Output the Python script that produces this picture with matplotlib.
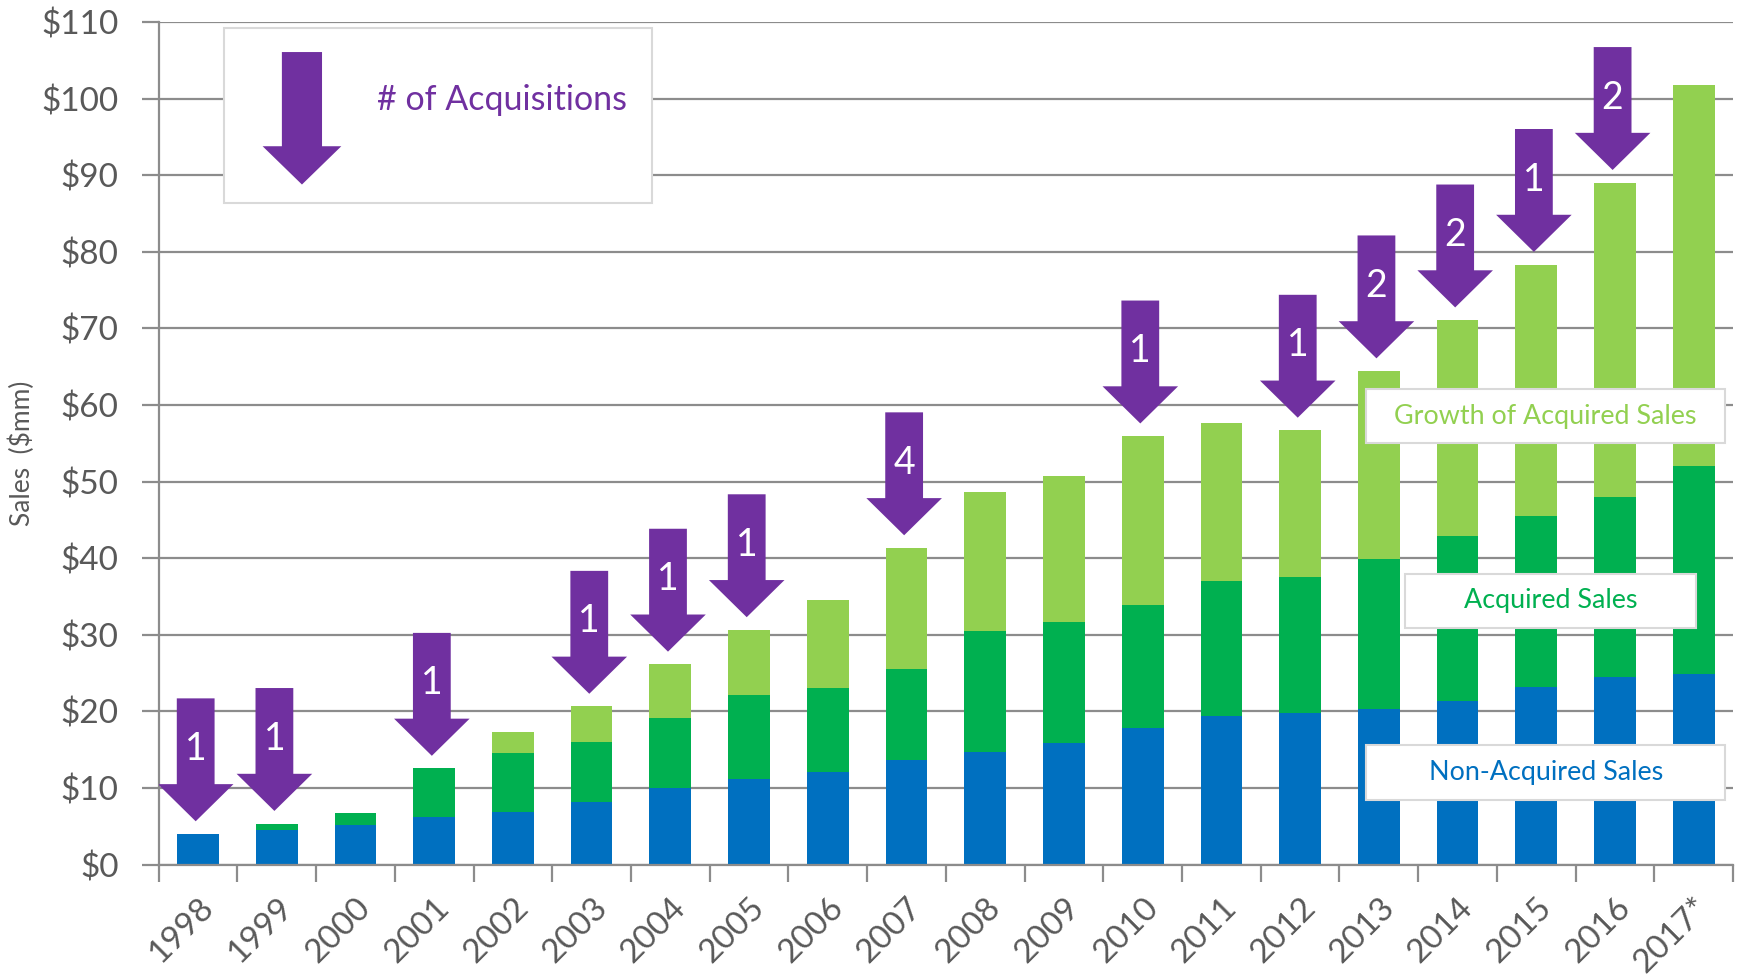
import matplotlib
matplotlib.use("Agg")
import matplotlib.pyplot as plt
from matplotlib.patches import Polygon, Rectangle
import numpy as np

plt.rcParams['font.family'] = ['Lato', 'DejaVu Sans']

# ---------------- data ----------------
years = ['1998', '1999', '2000', '2001', '2002', '2003', '2004', '2005', '2006', '2007',
         '2008', '2009', '2010', '2011', '2012', '2013', '2014', '2015', '2016', '2017*']
non_acquired = [4.0, 4.5, 5.15, 6.25, 6.8, 8.15, 9.95, 11.15, 12.15, 13.65,
                14.7, 15.85, 17.85, 19.4, 19.8, 20.35, 21.4, 23.2, 24.5, 24.85]
acquired = [0.0, 0.85, 1.55, 6.3, 7.75, 7.85, 9.25, 11.05, 10.9, 11.95,
            15.8, 15.8, 16.05, 17.6, 17.7, 19.5, 21.55, 22.25, 23.45, 27.25]
growth_acquired = [0.0, 0.0, 0.0, 0.0, 2.75, 4.65, 6.95, 8.45, 11.5, 15.75,
                   18.2, 19.15, 22.05, 20.6, 19.2, 24.6, 28.15, 32.9, 41.1, 49.75]
acquisitions = [1, 1, 0, 1, 0, 1, 1, 1, 0, 4, 0, 0, 1, 0, 1, 2, 2, 1, 2, 0]
y_ticks = [0, 10, 20, 30, 40, 50, 60, 70, 80, 90, 100, 110]
series_names = ['Non-Acquired Sales', 'Acquired Sales', 'Growth of Acquired Sales']
legend_label = '# of Acquisitions'
y_label = 'Sales  ($mm)'

# ---------------- style ----------------
BLUE = '#0070C0'
GREEN = '#00B050'
LGREEN = '#92D050'
PURPLE = '#7030A0'
GRID = '#8c8c8c'
TXT = '#595959'

fig = plt.figure(figsize=(17.4, 9.77), dpi=100)
ax = fig.add_axes([0.0912, 0.1151, 0.9048, 0.8622])

x = np.arange(len(years))
na = np.array(non_acquired)
ac = np.array(acquired)
gr = np.array(growth_acquired)
w = 0.53
ax.bar(x, na, w, color=BLUE, zorder=2)
ax.bar(x, ac, w, bottom=na, color=GREEN, zorder=2)
ax.bar(x, gr, w, bottom=na + ac, color=LGREEN, zorder=2)
totals = na + ac + gr

ax.set_xlim(-0.5, len(years) - 0.5)
ax.set_ylim(0, 110)

# grid & spines
ax.set_yticks(y_ticks)
ax.set_yticklabels(['${}'.format(v) for v in y_ticks])
ax.yaxis.grid(True, color=GRID, lw=1.6, zorder=0)
ax.set_axisbelow(True)
for s in ['top', 'right']:
    ax.spines[s].set_visible(False)
for s in ['left', 'bottom']:
    ax.spines[s].set_color(GRID)
    ax.spines[s].set_linewidth(1.6)
ax.tick_params(axis='y', length=12, width=1.6, color=GRID, pad=17,
               labelsize=24, labelcolor=TXT)

ax.set_xticks(np.arange(-0.5, len(years), 1.0))
ax.set_xticklabels([])
ax.set_xticks(x, minor=True)
ax.set_xticklabels(years, minor=True, rotation=45, ha='right', va='top',
                   rotation_mode='anchor')
ax.tick_params(axis='x', which='major', length=12, width=1.6, color=GRID)
ax.tick_params(axis='x', which='minor', length=0, pad=20, labelsize=24,
               labelcolor=TXT)

fig.text(22 / 1740, 1 - 453 / 977, y_label, rotation=90, ha='center', va='center',
         fontsize=19, color=TXT)


# arrows
def down_arrow(cx, tip, shaft_hw=0.24, head_hw=0.48, head_h=4.85, total_h=16.05):
    base = tip + head_h
    top = tip + total_h
    verts = [(cx - shaft_hw, top), (cx + shaft_hw, top), (cx + shaft_hw, base),
             (cx + head_hw, base), (cx, tip), (cx - head_hw, base),
             (cx - shaft_hw, base)]
    return Polygon(verts, closed=True, facecolor=PURPLE, edgecolor='none', zorder=4)


gap = 1.65
for xi, n, t in zip(x, acquisitions, totals):
    if n == 0:
        continue
    tip = t + gap
    ax.add_patch(down_arrow(xi - 0.03, tip))
    ax.text(xi - 0.03, tip + 16.05 - 6.6, str(n), ha='center', va='center',
            color='white', fontsize=27, zorder=5)

# legend box
ax.add_patch(Rectangle((0.33, 86.4), 5.44, 22.9, facecolor='white', edgecolor='#d9d9d9',
                       lw=1.5, zorder=3))
ax.add_patch(down_arrow(1.32, 88.8, shaft_hw=0.255, head_hw=0.5, head_h=5.0, total_h=17.3))
ax.text(2.27, 99.9, legend_label, ha='left', va='center', color=PURPLE, fontsize=24.5,
        zorder=5)

# series label boxes
boxes = [(14.84, 8.4, 4.56, 7.2, BLUE),
         (15.33, 30.86, 3.70, 7.14, GREEN),
         (14.84, 55.0, 4.56, 7.1, LGREEN)]
for name, (bx, by, bw, bh, col) in zip(series_names, boxes):
    ax.add_patch(Rectangle((bx, by), bw, bh, facecolor='white', edgecolor='#d9d9d9',
                           lw=1.5, zorder=6))
    ax.text(bx + bw / 2, by + bh / 2, name, ha='center', va='center', color=col,
            fontsize=19.4, zorder=7)

fig.savefig('out.png', dpi=100)
